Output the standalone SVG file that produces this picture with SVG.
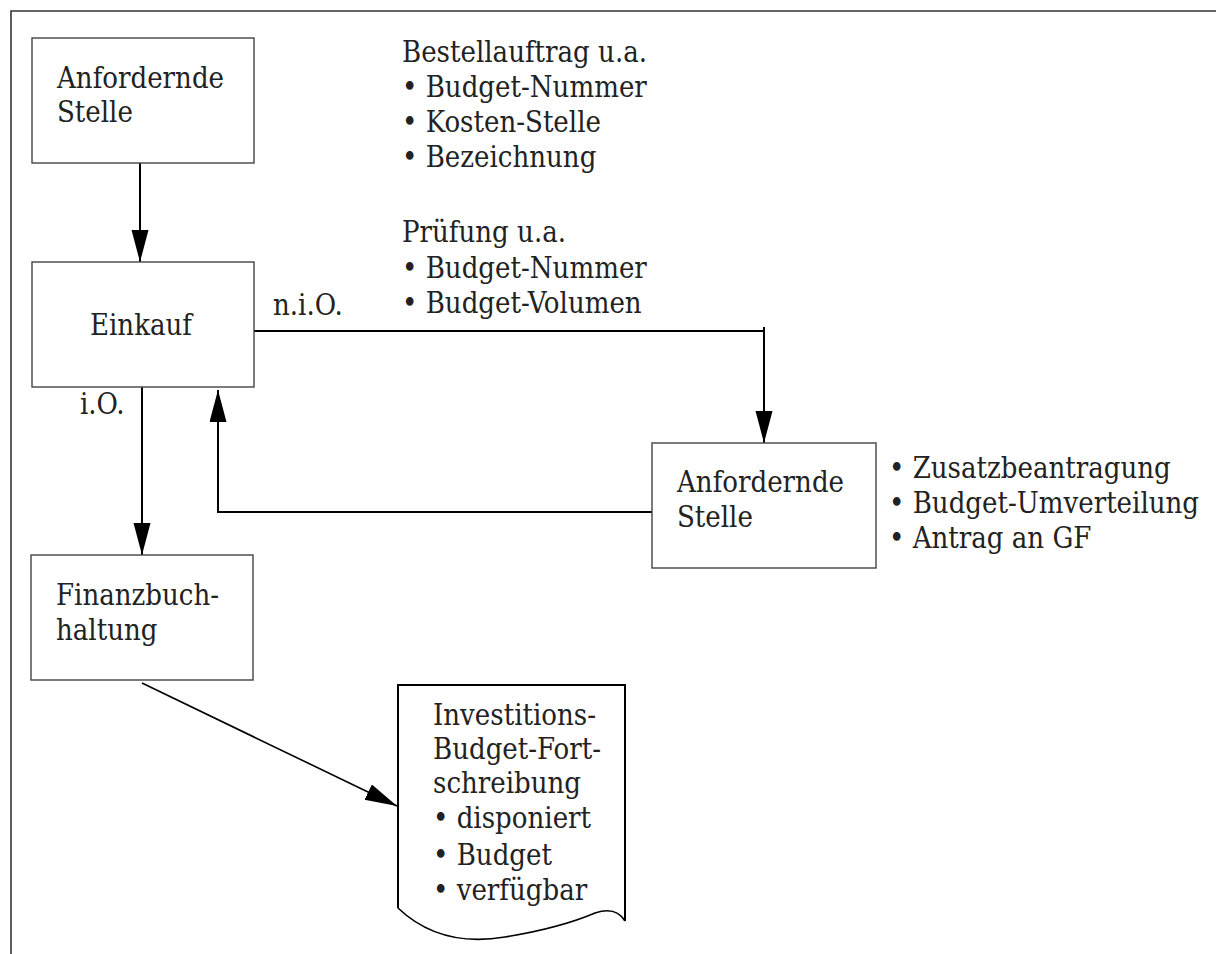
<svg xmlns="http://www.w3.org/2000/svg" width="1216" height="954" viewBox="0 0 1216 954">
  <style>
    .box { fill: #fff; stroke: #444; stroke-width: 1.4; }
    .doc { fill: #fff; stroke: #000; stroke-width: 2; }
    .frame { fill: none; stroke: #333; stroke-width: 1.6; }
    .conn { fill: none; stroke: #000; stroke-width: 2; }
    .thin { fill: none; stroke: #000; stroke-width: 1.6; }
    text { font-family: "DejaVu Serif Condensed", "DejaVu Serif", "Liberation Serif", serif; font-stretch: condensed; font-size: 29px; fill: #222; }
  </style>
  <defs>
    <marker id="arrow" markerUnits="userSpaceOnUse" markerWidth="34" markerHeight="18" refX="32" refY="8.5" orient="auto">
      <path d="M0,0 L32,8.5 L0,17 Z" fill="#000"/>
    </marker>
  </defs>

  <!-- outer frame (top and left edges only) -->
  <path class="frame" d="M11,954 V11 H1216"/>

  <!-- connectors -->
  <g id="connectors">
    <path class="conn" d="M140,163 V262" marker-end="url(#arrow)"/>
    <path class="conn" d="M254,331 H764 M764,327 V443" marker-end="url(#arrow)"/>
    <path class="conn" d="M652,512 H218 V390" marker-end="url(#arrow)"/>
    <path class="conn" d="M142,387 V555" marker-end="url(#arrow)"/>
    <path class="thin" d="M142,683 L397,806" marker-end="url(#arrow)"/>
    <text x="273" y="315">n.i.O.</text>
    <text x="80" y="414">i.O.</text>
  </g>

  <!-- annotations -->
  <g id="note-bestellauftrag">
    <text x="402" y="62">Bestellauftrag u.a.</text>
    <text x="402" y="97">• Budget-Nummer</text>
    <text x="402" y="132">• Kosten-Stelle</text>
    <text x="402" y="167">• Bezeichnung</text>
  </g>
  <g id="note-pruefung">
    <text x="402" y="242">Prüfung u.a.</text>
    <text x="402" y="278">• Budget-Nummer</text>
    <text x="402" y="313">• Budget-Volumen</text>
  </g>
  <g id="note-massnahmen">
    <text x="889" y="478">• Zusatzbeantragung</text>
    <text x="889" y="513">• Budget-Umverteilung</text>
    <text x="889" y="548">• Antrag an GF</text>
  </g>

  <!-- nodes -->
  <g id="node-anfordernde-stelle-1">
    <rect class="box" x="32" y="38" width="222" height="125"/>
    <text x="57" y="88">Anfordernde</text>
    <text x="57" y="122">Stelle</text>
  </g>
  <g id="node-einkauf">
    <rect class="box" x="32" y="262" width="222" height="125"/>
    <text x="141" y="335" text-anchor="middle">Einkauf</text>
  </g>
  <g id="node-anfordernde-stelle-2">
    <rect class="box" x="652" y="443" width="224" height="125"/>
    <text x="677" y="492">Anfordernde</text>
    <text x="677" y="527">Stelle</text>
  </g>
  <g id="node-finanzbuchhaltung">
    <rect class="box" x="31" y="555" width="222" height="125"/>
    <text x="56" y="605">Finanzbuch-</text>
    <text x="56" y="640">haltung</text>
  </g>
  <g id="node-budget-fortschreibung">
    <path class="doc" d="M398,908 V685 H625 V921"/>
    <path class="thin" d="M398,908 Q440,948 505,937 Q560,928 595,913 Q616,906 625,921"/>
    <text x="433" y="725">Investitions-</text>
    <text x="433" y="759">Budget-Fort-</text>
    <text x="433" y="793">schreibung</text>
    <text x="433" y="828">• disponiert</text>
    <text x="433" y="865">• Budget</text>
    <text x="433" y="900">• verfügbar</text>
  </g>
</svg>
